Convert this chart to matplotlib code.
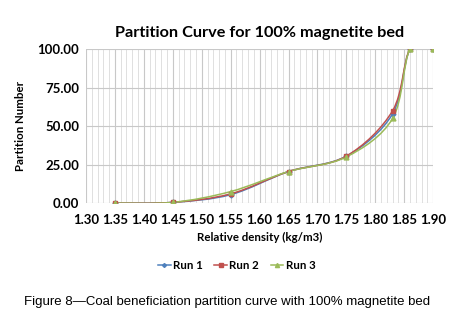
import matplotlib.pyplot as plt
import numpy as np
from matplotlib.path import Path
from matplotlib.patches import PathPatch
from matplotlib.ticker import MultipleLocator

density = [1.35, 1.45, 1.55, 1.65, 1.75, 1.83, 1.86, 1.90]
run1 = [0.0, 0.5, 5.5, 20.5, 30.5, 58.0, 100.0, 100.0]
run2 = [0.0, 0.5, 6.0, 20.5, 30.5, 60.0, 100.0, 100.0]
run3 = [0.0, 0.5, 7.5, 20.5, 30.0, 55.0, 100.0, 100.0]
labels = ['Run 1', 'Run 2', 'Run 3']

colors = ['#4F81BD', '#C0504D', '#9BBB59']
markers = ['D', 's', '^']
sizes = [2.5, 3.5, 3.5]


def smooth_path(x, y, t=1/6):
    # Excel-style smoothed line drawn as cubic bezier segments
    x = np.asarray(x, float)
    y = np.asarray(y, float)
    verts = [(x[0], y[0])]
    codes = [Path.MOVETO]
    n = len(x)
    for i in range(n - 1):
        x0, y0 = (x[i - 1], y[i - 1]) if i > 0 else (x[i], y[i])
        x3, y3 = (x[i + 2], y[i + 2]) if i + 2 < n else (x[i + 1], y[i + 1])
        c1 = (x[i] + (x[i + 1] - x0) * t, y[i] + (y[i + 1] - y0) * t)
        c2 = (x[i + 1] - (x3 - x[i]) * t, y[i + 1] - (y3 - y[i]) * t)
        verts += [c1, c2, (x[i + 1], y[i + 1])]
        codes += [Path.CURVE4] * 3
    return Path(verts, codes)


plt.rcParams['font.family'] = ['Lato', 'DejaVu Sans']
fig = plt.figure(figsize=(4.55, 3.25), dpi=100)
ax = fig.add_axes([0.189, 0.375, 0.763, 0.474])

for i, run in enumerate([run1, run2, run3]):
    ax.add_patch(PathPatch(smooth_path(density, run), facecolor='none',
                           edgecolor=colors[i], lw=1.1, zorder=3))
    ax.plot(density, run, linestyle='none', marker=markers[i], ms=sizes[i],
            color=colors[i], zorder=4)
    ax.plot([], [], color=colors[i], marker=markers[i], ms=sizes[i] - 0.5,
            lw=1.1, label=labels[i])

ax.set_xlim(1.30, 1.90)
ax.set_ylim(0, 100)
ax.xaxis.set_minor_locator(MultipleLocator(0.01))
xt = np.arange(1.30, 1.901, 0.05)
ax.set_xticks(xt)
ax.set_xticklabels([f'{v:.2f}' for v in xt])
ax.set_yticks([0, 25, 50, 75, 100])
ax.set_yticklabels([f'{v:.2f}' for v in [0, 25, 50, 75, 100]])
ax.grid(which='major', color='#c8c8c8', lw=0.8)
ax.grid(which='minor', axis='x', color='#dadada', lw=0.6)
for s in ax.spines.values():
    s.set_visible(False)
ax.tick_params(which='both', length=0, labelsize=9.5)
ax.tick_params(axis='x', pad=8)
ax.tick_params(axis='y', pad=5)
for lab in ax.get_xticklabels() + ax.get_yticklabels():
    lab.set_fontweight('bold')

ax.set_title('Partition Curve for 100% magnetite bed', fontsize=11.7,
             fontweight='bold', pad=9)
ax.set_xlabel('Relative density (kg/m3)', fontsize=8.3, fontweight='bold',
              labelpad=4)
ax.set_ylabel('Partition Number', fontsize=8.3, fontweight='bold', labelpad=8)

leg = fig.legend(loc='center', bbox_to_anchor=(0.52, 0.183), ncol=3,
                 frameon=False, fontsize=8.3, handlelength=1.1,
                 handletextpad=0.2, columnspacing=1.0)
for t in leg.get_texts():
    t.set_fontweight('bold')

fig.text(0.5, 0.072, 'Figure 8\u2014Coal beneficiation partition curve with 100% magnetite bed',
         ha='center', va='center', fontsize=9.5, family='Liberation Sans')

fig.savefig('out.png', dpi=100)
